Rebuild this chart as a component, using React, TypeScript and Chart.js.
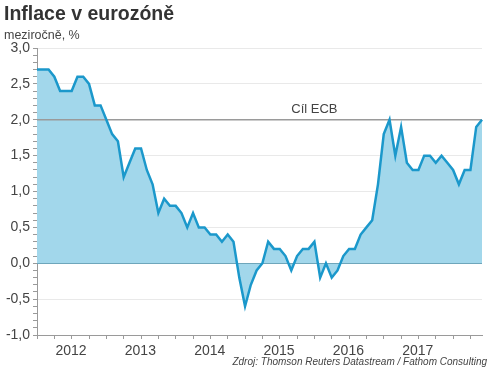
import React, { useEffect, useRef } from "react";
import { Chart, registerables } from "chart.js";

Chart.register(...registerables);

// ---- data (HICP, y/y %, monthly Jan 2012 – Jun 2018) ----
const years = ["2012", "2013", "2014", "2015", "2016", "2017", "2018"];
const infl2012 = [2.7, 2.7, 2.7, 2.6, 2.4, 2.4, 2.4, 2.6, 2.6, 2.5, 2.2, 2.2];
const infl2013 = [2.0, 1.8, 1.7, 1.2, 1.4, 1.6, 1.6, 1.3, 1.1, 0.7, 0.9, 0.8];
const infl2014 = [0.8, 0.7, 0.5, 0.7, 0.5, 0.5, 0.4, 0.4, 0.3, 0.4, 0.3, -0.2];
const infl2015 = [-0.6, -0.3, -0.1, 0.0, 0.3, 0.2, 0.2, 0.1, -0.1, 0.1, 0.2, 0.2];
const infl2016 = [0.3, -0.2, 0.0, -0.2, -0.1, 0.1, 0.2, 0.2, 0.4, 0.5, 0.6, 1.1];
const infl2017 = [1.8, 2.0, 1.5, 1.9, 1.4, 1.3, 1.3, 1.5, 1.5, 1.4, 1.5, 1.4];
const infl2018 = [1.3, 1.1, 1.3, 1.3, 1.9, 2.0];
const yearly = [infl2012, infl2013, infl2014, infl2015, infl2016, infl2017, infl2018];
const labeledYears = ["2012", "2013", "2014", "2015", "2016", "2017"];

const ecbTarget = 2.0;
const ecbLabel = "Cíl ECB";
const ecbLabelAtIndex = 44;
const yMin = -1;
const yMax = 3;

const monthLabels = years.flatMap((y, i) => yearly[i].map((_, m) => `${y}-${String(m + 1).padStart(2, "0")}`));
const inflation = yearly.flat();

const LINE = "#1b98cb";
const FILL = "#a2d7eb";
const AXIS = "#9a9a9a";
const GRID = "#e9e9e9";
const ZERO = "#6ea6bb";
const FONT = 'Arial, "Liberation Sans", sans-serif';

const isHalf = (v: number) => Math.abs(v * 2 - Math.round(v * 2)) < 1e-6;
const near = (a: number, b: number) => Math.abs(a - b) < 1e-6;

const refLines = {
  id: "refLines",
  beforeDatasetDraw(chart: any, args: any) {
    if (args.index !== 0) return;
    const { ctx, chartArea, scales } = chart;
    const y = scales.y;
    const x = scales.x;
    ctx.save();
    // zero line
    const y0 = Math.round(y.getPixelForValue(0)) + 0.5;
    ctx.strokeStyle = ZERO;
    ctx.lineWidth = 1;
    ctx.beginPath();
    ctx.moveTo(chartArea.left, y0);
    ctx.lineTo(chartArea.right, y0);
    ctx.stroke();
    // ECB target
    const yt = y.getPixelForValue(ecbTarget);
    ctx.strokeStyle = AXIS;
    ctx.lineWidth = 1.5;
    ctx.beginPath();
    ctx.moveTo(chartArea.left, yt);
    ctx.lineTo(chartArea.right, yt);
    ctx.stroke();
    ctx.fillStyle = "#444";
    ctx.font = `13px ${FONT}`;
    ctx.textAlign = "left";
    ctx.textBaseline = "alphabetic";
    ctx.fillText(ecbLabel, x.getPixelForValue(ecbLabelAtIndex), yt - 7);
    ctx.restore();
  },
};

export default function App() {
  const ref = useRef<HTMLCanvasElement | null>(null);

  useEffect(() => {
    if (!ref.current) return;
    const chart = new Chart(ref.current, {
      type: "line",
      data: {
        labels: monthLabels,
        datasets: [
          {
            label: "line",
            data: inflation,
            borderColor: LINE,
            borderWidth: 2.5,
            pointRadius: 0,
            fill: false,
            tension: 0,
            order: 0,
          },
          {
            label: "area",
            data: inflation,
            borderWidth: 0,
            borderColor: "rgba(0,0,0,0)",
            backgroundColor: FILL,
            pointRadius: 0,
            fill: "origin",
            tension: 0,
            order: 1,
          },
        ],
      },
      options: {
        responsive: false,
        animation: false,
        devicePixelRatio: 1,
        layout: { padding: { top: 48, right: 18, left: 0, bottom: 0 } },
        plugins: { legend: { display: false }, tooltip: { enabled: false }, title: { display: false } },
        scales: {
          x: {
            type: "category",
            offset: false,
            grid: {
              drawOnChartArea: false,
              tickLength: 4,
              tickColor: (c: any) => (c.index % 3 === 0 ? AXIS : "rgba(0,0,0,0)"),
            },
            border: { color: AXIS, width: 1 },
            ticks: {
              autoSkip: false,
              maxRotation: 0,
              minRotation: 0,
              labelOffset: 34,
              padding: 4,
              color: "#444",
              font: { family: FONT, size: 14 },
              callback: (_v: any, i: number) => {
                if (i % 12 !== 0) return "";
                const y = years[i / 12];
                return labeledYears.includes(y) ? y : "";
              },
            },
            afterFit: (s: any) => {
              s.height = 41;
            },
          },
          y: {
            min: yMin,
            max: yMax,
            grid: {
              tickLength: 4,
              tickColor: AXIS,
              color: (c: any) => {
                const v = c.tick ? c.tick.value : 0;
                if (near(v, 0) || near(v, ecbTarget) || near(v, yMin)) return "rgba(0,0,0,0)";
                return isHalf(v) ? GRID : "rgba(0,0,0,0)";
              },
            },
            border: { color: AXIS, width: 1 },
            ticks: {
              stepSize: 0.1,
              autoSkip: false,
              padding: 3,
              color: "#444",
              font: { family: FONT, size: 14 },
              callback: (v: any) => (isHalf(Number(v)) ? Number(v).toFixed(1).replace(".", ",") : ""),
            },
            afterFit: (s: any) => {
              s.width = 37;
            },
          },
        },
      },
      plugins: [refLines],
    });
    return () => chart.destroy();
  }, []);

  return (
    <div style={{ position: "absolute", left: 0, top: 0, width: 500, height: 376, background: "#fff", fontFamily: FONT }}>
      <canvas ref={ref} width={500} height={376} style={{ position: "absolute", left: 0, top: 0, width: 500, height: 376 }} />
      <div style={{ position: "absolute", left: 4, top: 3, fontSize: "19.5px", lineHeight: "20px", fontWeight: "bold", color: "#333", whiteSpace: "nowrap" }}>
        Inflace v eurozóně
      </div>
      <div style={{ position: "absolute", left: 4, top: 29, fontSize: "12.5px", lineHeight: "13px", color: "#444", whiteSpace: "nowrap" }}>
        meziročně, %
      </div>
      <div style={{ position: "absolute", right: 13, top: 357, fontSize: "10px", lineHeight: "10px", fontStyle: "italic", color: "#444", whiteSpace: "nowrap" }}>
        Zdroj: Thomson Reuters Datastream / Fathom Consulting
      </div>
    </div>
  );
}
